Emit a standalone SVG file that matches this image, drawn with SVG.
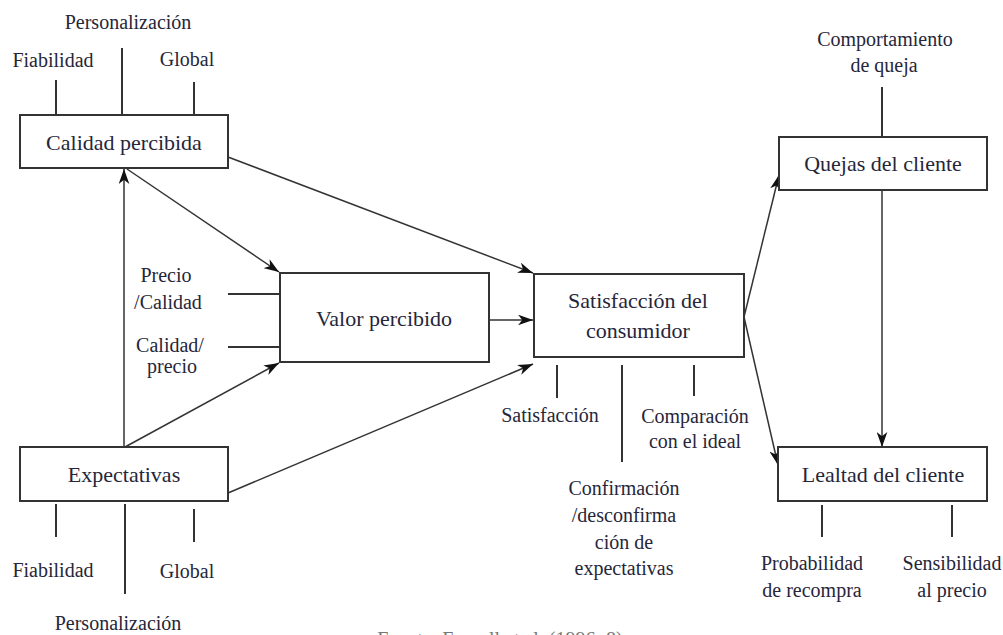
<svg xmlns="http://www.w3.org/2000/svg" width="1003" height="635" viewBox="0 0 1003 635">
  <style>
    .box { fill: #ffffff; stroke: #333333; stroke-width: 2; }
    .lbl { font-size: 22px; fill: #26263a; text-anchor: middle; }
    .att { font-size: 20px; fill: #26263a; text-anchor: middle; }
    .cap { font-size: 20px; fill: #777777; text-anchor: middle; }
    .conn { stroke: #333333; stroke-width: 1.5; fill: none; }
    .arr { marker-end: url(#ah); }
    .tick { stroke: #333333; stroke-width: 2; fill: none; }
  </style>
  <defs>
    <marker id="ah" viewBox="0 0 14 10" refX="14" refY="5" markerWidth="15" markerHeight="11" markerUnits="userSpaceOnUse" orient="auto">
      <path d="M0,0 L14,5 L0,10 L4,5 Z" fill="#111111"/>
    </marker>
  </defs>
  <rect width="1003" height="635" fill="#ffffff"/>

  <g id="connectors">
    <line class="conn arr" x1="124" y1="447" x2="124" y2="169"/>
    <line class="conn arr" x1="127" y1="169" x2="279" y2="272"/>
    <line class="conn arr" x1="125" y1="447" x2="279" y2="363"/>
    <line class="conn arr" x1="228" y1="157" x2="533" y2="273"/>
    <line class="conn arr" x1="489" y1="320" x2="533" y2="320"/>
    <line class="conn arr" x1="228" y1="493" x2="533" y2="364"/>
    <line class="conn arr" x1="744" y1="317" x2="779" y2="175"/>
    <line class="conn arr" x1="744" y1="317" x2="778" y2="465"/>
    <line class="conn arr" x1="882" y1="190" x2="882" y2="447"/>
  </g>

  <g font-family="'Liberation Serif', 'Times New Roman', serif">
  <g id="calidad-percibida">
    <line class="tick" x1="56" y1="80" x2="56" y2="115"/>
    <line class="tick" x1="122" y1="48" x2="122" y2="115"/>
    <line class="tick" x1="194" y1="82" x2="194" y2="115"/>
    <text class="att" x="128" y="29">Personalización</text>
    <text class="att" x="53" y="67">Fiabilidad</text>
    <text class="att" x="187" y="66">Global</text>
    <rect class="box" x="20" y="115" width="208" height="53"/>
    <text class="lbl" x="124" y="150">Calidad percibida</text>
  </g>

  <g id="expectativas">
    <rect class="box" x="20" y="447" width="208" height="54"/>
    <text class="lbl" x="124" y="482">Expectativas</text>
    <line class="tick" x1="56" y1="504" x2="56" y2="537"/>
    <line class="tick" x1="125" y1="504" x2="125" y2="594"/>
    <line class="tick" x1="194" y1="509" x2="194" y2="542"/>
    <text class="att" x="53" y="577">Fiabilidad</text>
    <text class="att" x="187" y="578">Global</text>
    <text class="att" x="118" y="630">Personalización</text>
  </g>

  <g id="valor-percibido">
    <line class="tick" x1="228" y1="294" x2="280" y2="294"/>
    <line class="tick" x1="228" y1="347" x2="280" y2="347"/>
    <text class="att" x="166" y="282">Precio</text>
    <text class="att" x="168" y="309">/Calidad</text>
    <text class="att" x="170" y="352">Calidad/</text>
    <text class="att" x="172" y="373">precio</text>
    <rect class="box" x="280" y="273" width="209" height="89"/>
    <text class="lbl" x="384" y="326">Valor percibido</text>
  </g>

  <g id="satisfaccion">
    <rect class="box" x="534" y="274" width="210" height="83"/>
    <text class="lbl" x="638" y="308">Satisfacción del</text>
    <text class="lbl" x="638" y="338">consumidor</text>
    <line class="tick" x1="557" y1="365" x2="557" y2="398"/>
    <line class="tick" x1="622" y1="365" x2="622" y2="462"/>
    <line class="tick" x1="694" y1="365" x2="694" y2="396"/>
    <text class="att" x="550" y="422">Satisfacción</text>
    <text class="att" x="695" y="423">Comparación</text>
    <text class="att" x="695" y="448">con el ideal</text>
    <text class="att" x="624" y="495">Confirmación</text>
    <text class="att" x="624" y="522">/desconfirma</text>
    <text class="att" x="624" y="549">ción de</text>
    <text class="att" x="624" y="575">expectativas</text>
  </g>

  <g id="quejas">
    <text class="att" x="885" y="46">Comportamiento</text>
    <text class="att" x="884" y="72">de queja</text>
    <line class="tick" x1="882" y1="87" x2="882" y2="137"/>
    <rect class="box" x="779" y="137" width="208" height="53"/>
    <text class="lbl" x="883" y="171">Quejas del cliente</text>
  </g>

  <g id="lealtad">
    <rect class="box" x="778" y="447" width="209" height="54"/>
    <text class="lbl" x="883" y="482">Lealtad del cliente</text>
    <line class="tick" x1="822" y1="505" x2="822" y2="537"/>
    <line class="tick" x1="952" y1="505" x2="952" y2="537"/>
    <text class="att" x="812" y="570">Probabilidad</text>
    <text class="att" x="812" y="597">de recompra</text>
    <text class="att" x="952" y="570">Sensibilidad</text>
    <text class="att" x="952" y="597">al precio</text>
  </g>

  <text class="cap" x="500" y="646">Fuente: Fornell et al. (1996: 8)</text>
  </g>
</svg>
